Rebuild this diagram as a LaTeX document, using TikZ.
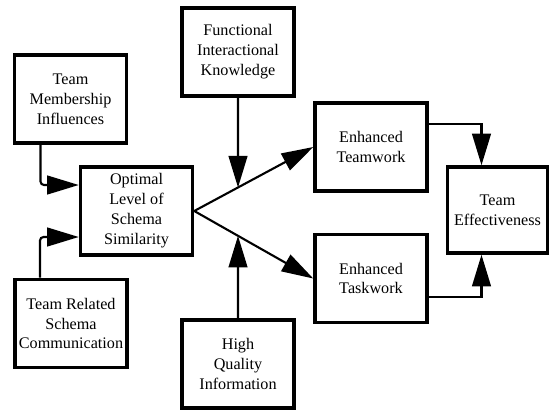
\documentclass[tikz,border=0pt]{standalone}
\usepackage{fontspec}
\setmainfont{Liberation Serif}
\usetikzlibrary{arrows.meta,calc}
\begin{document}
\begin{tikzpicture}[
  x=0.03cm,y=-0.03cm,
  font=\fontsize{13.8pt}{17pt}\selectfont,
  box/.style={draw,line width=3pt,align=center,inner sep=0pt,
              minimum height=2.64cm,minimum width=3.36cm},
  arr/.style={-{Triangle[length=27pt,width=16pt]},line width=1.8pt},
  elb/.style={arr,rounded corners=3pt}
]
\useasboundingbox (0,0) rectangle (549,411);
\node[box] (memb) at (70.5,99) {Team\\Membership\\Influences};
\node[box] (optim) at (136.5,211) {Optimal\\Level of\\Schema\\Similarity};
\node[box] (relat) at (71,323.5) {Team Related\\Schema\\Communication};
\node[box] (func) at (238,52) {Functional\\Interactional\\Knowledge};
\node[box] (hqi) at (238,364) {High\\Quality\\Information};
\node[box] (teamw) at (371,147) {Enhanced\\Teamwork};
\node[box] (taskw) at (371,278.5) {Enhanced\\Taskwork};
\node[box,minimum width=3cm,minimum height=2.58cm] (eff) at (497.5,210) {Team\\Effectiveness};

\draw[elb] ($(memb.south)+(-30,0)$) |- ($(optim.west)+(0,-26)$);
\draw[elb] ($(relat.north)+(-31,0)$) |- ($(optim.west)+(0,26)$);
\draw[arr] (optim.east) -- (teamw.west);
\draw[arr] (optim.east) -- (taskw.west);
\draw[arr] (func.south) -- (intersection of optim.east--teamw.west and func.south--hqi.north);
\draw[arr] (hqi.north) -- (intersection of optim.east--taskw.west and func.south--hqi.north);
\draw[arr] ($(teamw.east)+(0,-23)$) -| ($(eff.north)+(-16,0)$);
\draw[arr] ($(taskw.east)+(0,18.5)$) -| ($(eff.south)+(-16,0)$);
\end{tikzpicture}
\end{document}
